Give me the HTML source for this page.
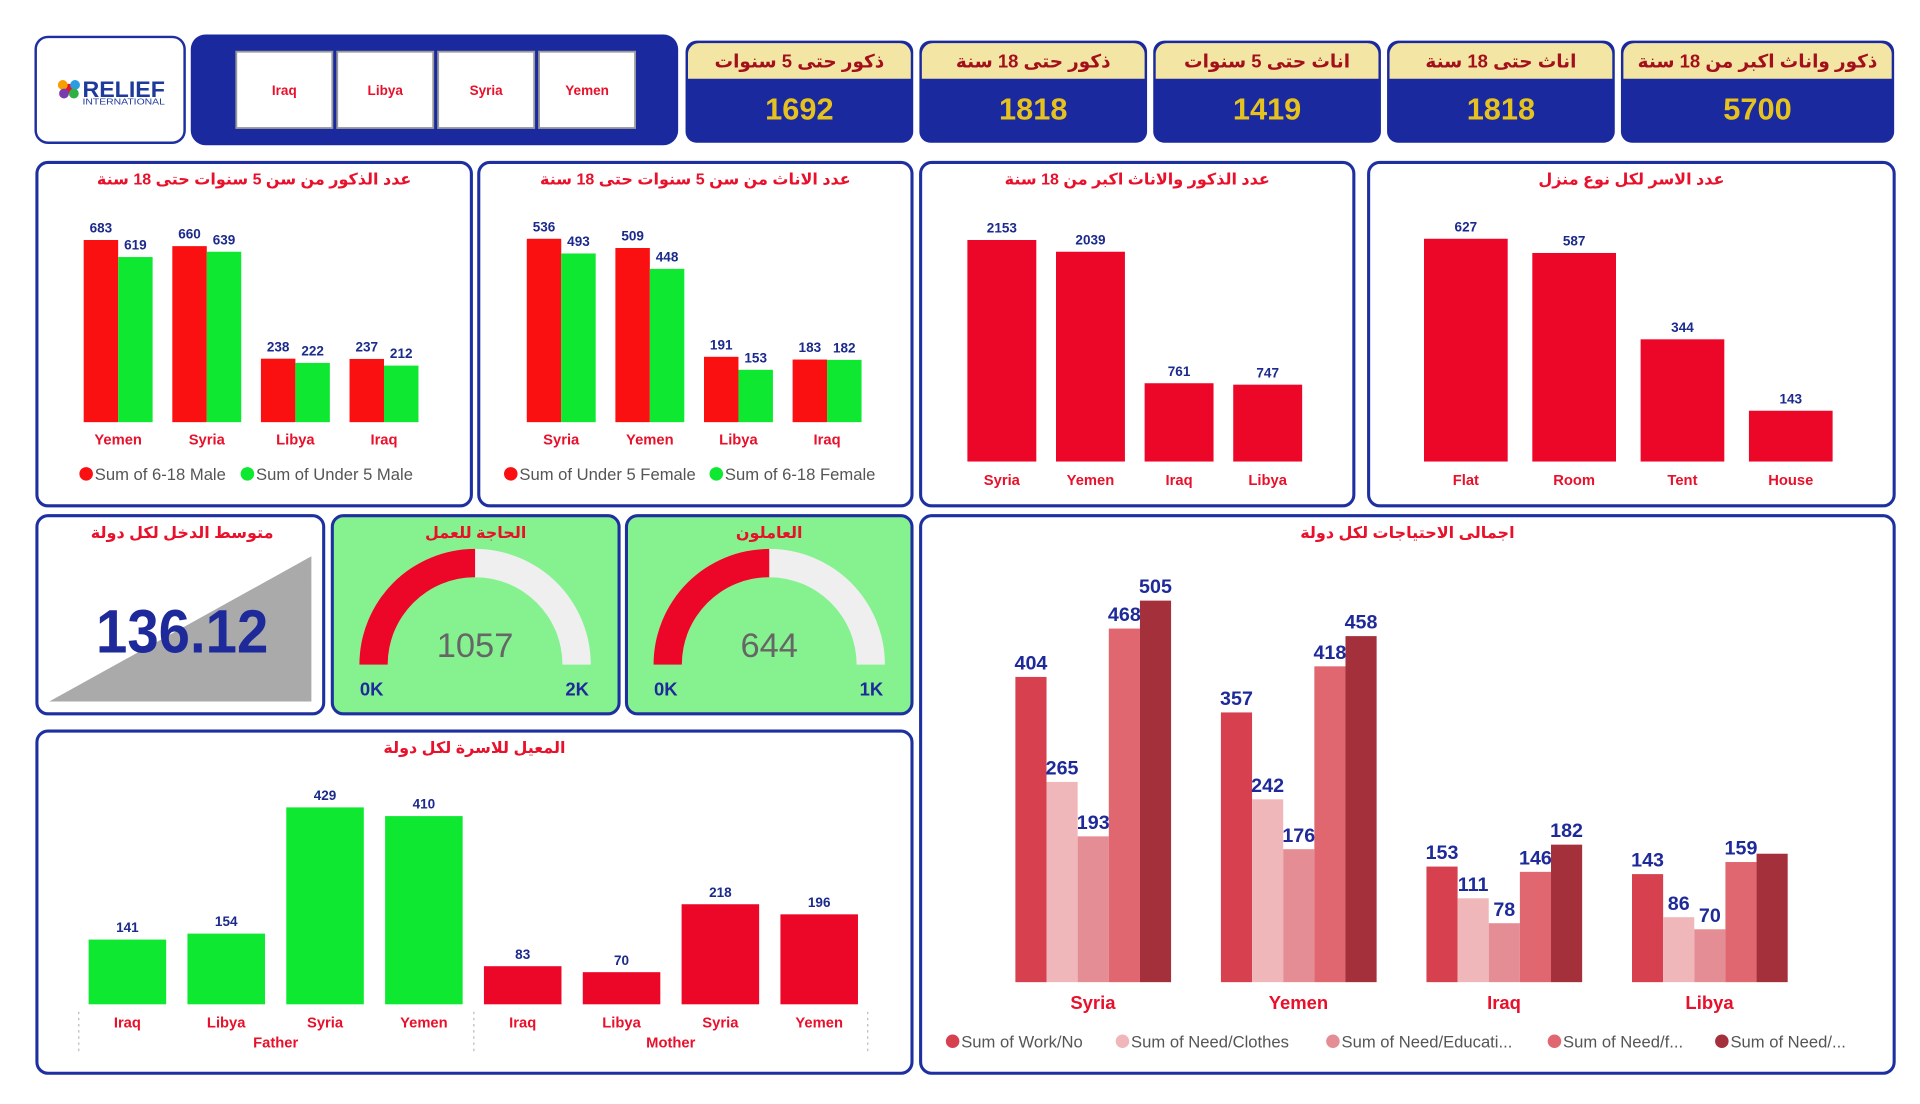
<!DOCTYPE html>
<html><head><meta charset="utf-8"><style>
html,body{margin:0;padding:0;background:#fff;}
svg{display:block;}
text{font-family:"Liberation Sans Narrow","Liberation Sans","Noto Sans CJK SC",sans-serif;}
.ar{font-family:"Liberation Sans","Noto Sans CJK SC","DejaVu Sans",sans-serif;font-weight:bold;}
</style></head><body>
<svg id="dash" width="1920" height="1104" viewBox="0 0 1560 897" xmlns="http://www.w3.org/2000/svg">
<rect x="29" y="30" width="121" height="86" rx="10" fill="#fff" stroke="#1e2fa0" stroke-width="2"/>
<g>
<circle cx="56" cy="72" r="4" fill="#e8102a"/><circle cx="51" cy="69" r="4" fill="#f5a000"/><circle cx="61" cy="69" r="4" fill="#2a9de0"/><circle cx="52" cy="76" r="4" fill="#7a3bb0"/><circle cx="60" cy="76" r="4" fill="#30b040"/>
</g>
<text x="67" y="79" font-size="18" font-weight="bold" fill="#1e3a9a" textLength="67" lengthAdjust="spacingAndGlyphs">RELIEF</text>
<text x="67" y="85" font-size="6.5" fill="#1e3a9a" textLength="67" lengthAdjust="spacingAndGlyphs">INTERNATIONAL</text>
<rect x="155" y="28" width="396" height="90" rx="12" fill="#1a2a9e"/>
<g id="slicer"></g>
<g id="kpis"></g>
<g id="panels"></g>
<g id="charts"></g>
</svg>
<script>
const NS="http://www.w3.org/2000/svg";
const svg=document.getElementById('dash');
function mk(tag,attrs,parent,txt){const e=document.createElementNS(NS,tag);for(const k in attrs)e.setAttribute(k,attrs[k]);if(txt!==undefined)e.textContent=txt;(parent||svg).appendChild(e);return e;}

// ---------- data ----------
const slicerCountries=["Iraq","Libya","Syria","Yemen"];
const kpiTitles=["ذكور حتى 5 سنوات","ذكور حتى 18 سنة","اناث حتى 5 سنوات","اناث حتى 18 سنة","ذكور واناث اكبر من 18 سنة"];
const kpiValues=[1692,1818,1419,1818,5700];

const c1Cats=["Yemen","Syria","Libya","Iraq"];
const c1Male618=[683,660,238,237];
const c1MaleU5=[619,639,222,212];
const c2Cats=["Syria","Yemen","Libya","Iraq"];
const c2FemU5=[536,509,191,183];
const c2Fem618=[493,448,153,182];
const c3Cats=["Syria","Yemen","Iraq","Libya"];
const c3Adults=[2153,2039,761,747];
const c4Cats=["Flat","Room","Tent","House"];
const c4Houses=[627,587,344,143];
const needsCats=["Syria","Yemen","Iraq","Libya"];
const needWork=[404,357,153,143];
const needClothes=[265,242,111,86];
const needEdu=[193,176,78,70];
const needF=[468,418,146,159];
const needOther=[505,458,182,170];
const needSeriesNames=["Sum of Work/No","Sum of Need/Clothes","Sum of Need/Educati...","Sum of Need/f...","Sum of Need/..."];
const ratioCats=["Iraq","Libya","Syria","Yemen","Iraq","Libya","Syria","Yemen"];
const ratioGroups=["Father","Father","Father","Father","Mother","Mother","Mother","Mother"];
const ratioValues=[141,154,429,410,83,70,218,196];
const avgIncome=136.12;
const gaugeTitles=["الحاجة للعمل","العاملون"];
const gaugeValues=[1057,644];
const gaugeMax=[2114,1288];
const gaugeMaxLabels=["2K","1K"];

const NAVY="#1b2a8c",RED="#e8102a",BORDER="#1e2fa0";

// ---------- slicer ----------
const sl=document.getElementById('slicer');
slicerCountries.forEach((c,i)=>{
  const x=192+i*82;
  const b=mk('rect',{x:x,y:42,width:78,height:62,fill:"#fff",stroke:"#999","stroke-width":1.5},sl);
  
  
  const t=mk('text',{x:x+39,y:77,"text-anchor":"middle","font-size":11,"font-weight":"bold",fill:RED},sl,c);
  
  
});

// ---------- KPI cards ----------
const kp=document.getElementById('kpis');
const kpiX=[557,747,937,1127,1317],kpiW=[185,185,185,185,222];
kpiTitles.forEach((tt,i)=>{
  const g=mk('g',{},kp);
  
  
  mk('rect',{x:kpiX[i],y:33,width:kpiW[i],height:83,rx:9,fill:"#1a2a9e"},g);
  mk('path',{d:`M${kpiX[i]+2},64 V44 a9,9 0 0 1 9,-9 H${kpiX[i]+kpiW[i]-11} a9,9 0 0 1 9,9 V64 Z`,fill:"#f3e6a4"},g);
  const t=mk('text',{x:kpiX[i]+kpiW[i]/2,y:55,"text-anchor":"middle","font-size":15,fill:"#a3101c",class:"ar"},g,tt);
  
  
  const v=mk('text',{x:kpiX[i]+kpiW[i]/2,y:97,"text-anchor":"middle","font-size":25,"font-weight":"bold",fill:"#e6c21e"},g,String(kpiValues[i]));
  
  
});

// ---------- panels ----------
const pn=document.getElementById('panels');
function panel(name,x,y,w,h,fill,title,tx){
  const r=mk('rect',{x:x,y:y,width:w,height:h,rx:9,fill:fill,stroke:BORDER,"stroke-width":2.5},pn);
  
  
  const t=mk('text',{x:tx!==undefined?tx:x+w/2,y:y+18,"text-anchor":"middle","font-size":13,fill:RED,class:"ar"},pn,title);
  
  
}
panel('males-5-18-panel',30,132,353,279,"#fff","عدد الذكور من سن 5 سنوات حتى 18 سنة");
panel('females-5-18-panel',389,132,352,279,"#fff","عدد الاناث من سن 5 سنوات حتى 18 سنة");
panel('adults-panel',748,132,352,279,"#fff","عدد الذكور والاناث اكبر من 18 سنة");
panel('housing-panel',1112,132,427,279,"#fff","عدد الاسر لكل نوع منزل");
panel('avg-income-panel',30,419,233,161,"#fff","متوسط الدخل لكل دولة",148);
panel('gauge-need-work-panel',270,419,233,161,"#85f28f",gaugeTitles[0]);
panel('gauge-workers-panel',509,419,232,161,"#85f28f",gaugeTitles[1]);
panel('needs-panel',748,419,791,453,"#fff","اجمالى الاحتياجات لكل دولة");
panel('breadwinner-panel',30,594,711,278,"#fff","المعيل للاسرة لكل دولة");

const ch=document.getElementById('charts');
function yScale(base,top,maxVal,topPx){return v=>base-(v/maxVal)*(base-topPx);}
function bar(x,y0,w,v,ys,fill,name,lblSize,lblColor,noLabel){
  const y=ys(v);
  const r=mk('rect',{x:x,y:y,width:w,height:y0-y,fill:fill},ch);
  
  
  if(noLabel)return;
  const t=mk('text',{x:x+w/2,y:y-6,"text-anchor":"middle","font-size":lblSize||11,"font-weight":"bold",fill:lblColor||NAVY},ch,String(v));
  
  
}
function catLabel(x,y,s,size){
  const t=mk('text',{x:x,y:y,"text-anchor":"middle","font-size":size||12,"font-weight":"bold",fill:RED},ch,s);
  
  
}
function legend(items,y){
  items.forEach(it=>{
    const c=mk('circle',{cx:it[0],cy:y-4,r:5.5,fill:it[2]},ch);
    
    
    const t=mk('text',{x:it[0]+7,y:y+1,"font-size":13.5,fill:"#555"},ch,it[1]);
    
    
  });
}

// chart 1
{const ys=yScale(343,0,683,195);
 c1Cats.forEach((c,i)=>{const x=68+i*72;
  bar(x,343,28,c1Male618[i],ys,"#fa1010",'bar-male-6-18-'+c.toLowerCase());
  bar(x+28,343,28,c1MaleU5[i],ys,"#0ee830",'bar-male-under5-'+c.toLowerCase());
  catLabel(x+28,361,c);});
 legend([[70,"Sum of 6-18 Male","#fa1010"],[201,"Sum of Under 5 Male","#0ee830"]],389);}
// chart 2
{const ys=yScale(343,0,536,194);
 c2Cats.forEach((c,i)=>{const x=428+i*72;
  bar(x,343,28,c2FemU5[i],ys,"#fa1010",'bar-female-under5-'+c.toLowerCase());
  bar(x+28,343,28,c2Fem618[i],ys,"#0ee830",'bar-female-6-18-'+c.toLowerCase());
  catLabel(x+28,361,c);});
 legend([[415,"Sum of Under 5 Female","#fa1010"],[582,"Sum of 6-18 Female","#0ee830"]],389);}
// chart 3
{const ys=yScale(375,0,2153,195);
 c3Cats.forEach((c,i)=>{const x=786+i*72;
  bar(x,375,56,c3Adults[i],ys,"#ec0628",'bar-adults-'+c.toLowerCase());
  catLabel(x+28,394,c);});}
// chart 4
{const ys=yScale(375,0,627,194);
 c4Cats.forEach((c,i)=>{const x=1157+i*88;
  bar(x,375,68,c4Houses[i],ys,"#ec0628",'bar-housing-'+c.toLowerCase());
  catLabel(x+34,394,c);});}
// needs chart
{const ys=yScale(798,0,505,488);
 const series=[needWork,needClothes,needEdu,needF,needOther];
 const cols=["#d6404f","#f0b7bb","#e58d94","#e06670","#a3303b"];
 const sn=["work","clothes","education","f","other"];
 needsCats.forEach((c,i)=>{const gx=825+i*167;
  series.forEach((s,j)=>{
    const prev=j>0?series[j-1][i]:0;
    const hide=(j===4 && s[i]-prev<15);
    bar(gx+j*25.3,798,25.3,s[i],ys,cols[j],'bar-need-'+sn[j]+'-'+c.toLowerCase(),16,"#1e2a9a",hide);});
  catLabel(gx+63,820,c,15);});
 legend([[774,needSeriesNames[0],cols[0]],[912,needSeriesNames[1],cols[1]],[1083,needSeriesNames[2],cols[2]],[1263,needSeriesNames[3],cols[3]],[1399,needSeriesNames[4],cols[4]]],850);}
// breadwinner chart
{const ys=yScale(816,0,429,656);
 ratioCats.forEach((c,i)=>{const x=72+i*80.3;
  bar(x,816,63,ratioValues[i],ys,ratioGroups[i]==="Father"?"#0ee830":"#ec0628",'bar-'+ratioGroups[i].toLowerCase()+'-'+c.toLowerCase());
  catLabel(x+31.5,835,c);});
 [64,385,705].forEach(x=>{const l=mk('line',{x1:x,y1:822,x2:x,y2:856,stroke:"#bbb","stroke-dasharray":"2,3"},ch);
  
  });
 catLabel(224,851,"Father");catLabel(545,851,"Mother");}

// avg income
{const tri=mk('polygon',{points:"40,570 253,452 253,570",fill:"#aaaaaa"},ch);
 
 
 const t=mk('text',{x:148,y:530,"text-anchor":"middle","font-size":50,"font-weight":"bold",fill:"#1e2a9a",textLength:"140",lengthAdjust:"spacingAndGlyphs"},ch,avgIncome.toFixed(2));
 
 }

// gauges
gaugeValues.forEach((v,i)=>{
  const cx=[386,625][i],cy=540,R=94,r=71;
  const pt=(a,rad)=>[cx-rad*Math.cos(a),cy-rad*Math.sin(a)];
  function arc(a0,a1,fill,name){
    const p0=pt(a0,R),p1=pt(a1,R),q1=pt(a1,r),q0=pt(a0,r);
    const e=mk('path',{d:`M${p0[0]},${p0[1]} A${R},${R} 0 0 1 ${p1[0]},${p1[1]} L${q1[0]},${q1[1]} A${r},${r} 0 0 0 ${q0[0]},${q0[1]} Z`,fill:fill},ch);
    
    
  }
  const f=Math.min(v/gaugeMax[i],1)*Math.PI;
  arc(0,Math.PI,"#efefef",'gauge-track');
  arc(0,f,"#ec0628",'gauge-fill');
  const t=mk('text',{x:cx,y:534,"text-anchor":"middle","font-size":28,fill:"#666"},ch,String(v));
  
  
  const a=mk('text',{x:cx-84,y:565,"text-anchor":"middle","font-size":15,"font-weight":"bold",fill:"#1e2a9a"},ch,"0K");
  
  
  const b=mk('text',{x:cx+83,y:565,"text-anchor":"middle","font-size":15,"font-weight":"bold",fill:"#1e2a9a"},ch,gaugeMaxLabels[i]);
  
  
});
</script>
</body></html>
